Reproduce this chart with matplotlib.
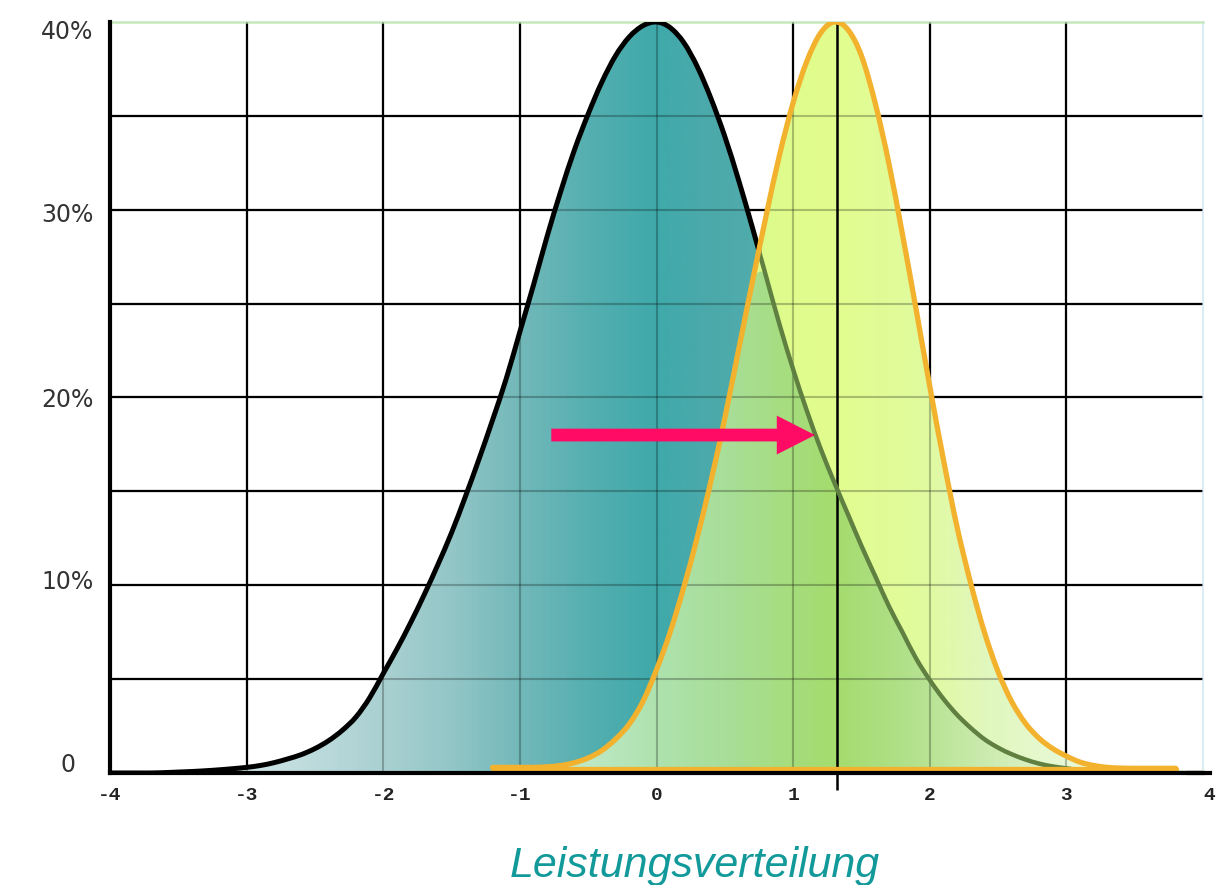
import numpy as np
import matplotlib
matplotlib.use("Agg")
import matplotlib.pyplot as plt
from matplotlib.patches import PathPatch, FancyArrowPatch
from matplotlib.path import Path
from matplotlib.colors import LinearSegmentedColormap
import matplotlib.transforms as mtransforms

# ---------------- data (percent values) ----------------
black_x = np.round(np.arange(-4.0, 4.0001, 0.1), 2)
black_y = [0.0, 0.0, 0.0, 0.0, 0.02, 0.05, 0.08, 0.12, 0.17, 0.23,    # -4.0 .. -3.1
           0.3, 0.4, 0.55, 0.75, 0.98, 1.3, 1.72, 2.27, 2.98, 4.0,    # -3.0 .. -2.1
           5.3, 6.6, 8.0, 9.5, 11.1, 12.8, 14.7, 16.7, 18.8, 21.0,    # -2.0 .. -1.1
           23.5, 26.0, 28.6, 31.0, 33.2, 35.1, 36.8, 38.2, 39.2, 39.8,  # -1.0 .. -0.1
           40.0, 39.7, 38.9, 37.6, 35.9, 33.9, 31.6, 29.1, 26.5, 23.9,  # 0.0 .. 0.9
           21.5, 19.3, 17.3, 15.5, 13.8, 12.1, 10.5, 8.9, 7.5, 6.1,   # 1.0 .. 1.9
           4.95, 3.95, 3.1, 2.4, 1.8, 1.35, 1.0, 0.72, 0.5, 0.35,     # 2.0 .. 2.9
           0.25, 0.15, 0.08, 0.03, 0.0, 0.0, 0.0, 0.0, 0.0, 0.0,      # 3.0 .. 3.9
           0.0]                                                        # 4.0

yellow_x = np.round(np.arange(-1.2, 3.8001, 0.1), 2)
yellow_y = [0.3, 0.3, 0.3, 0.3, 0.33, 0.4, 0.55, 0.8, 1.2, 1.8,       # -1.2 .. -0.3
            2.6, 3.8, 5.5, 7.5, 9.9, 12.6, 15.6, 18.9, 22.5, 26.1,    # -0.2 .. 0.7
            29.6, 32.9, 35.7, 37.9, 39.4, 40.0, 39.6, 38.2, 35.7, 32.5,  # 0.8 .. 1.7
            28.7, 24.7, 20.6, 16.7, 13.1, 10.1, 7.5, 5.4, 3.8, 2.65,  # 1.8 .. 2.7
            1.85, 1.3, 0.9, 0.58, 0.4, 0.3, 0.26, 0.25, 0.25, 0.25,   # 2.8 .. 3.7
            0.25]                                                      # 3.8
yellow_base = 0.2
shift_mean = 1.32          # centre of the shifted (yellow) distribution
arrow_from = (-0.77, 18.0)
arrow_to = (1.16, 18.0)

x_ticks = [-4, -3, -2, -1, 0, 1, 2, 3, 4]
x_tick_labels = ["-4", "-3", "-2", "-1", "0", "1", "2", "3", "4"]
y_ticks = [0, 10, 20, 30, 40]
y_tick_labels = ["0", "10%", "20%", "30%", "40%"]
y_grid = [5, 10, 15, 20, 25, 30, 35]
x_label = "Leistungsverteilung"

black_y = np.array(black_y)
yellow_y = np.array(yellow_y)


# ---------------- helpers: smooth path through the data points ----------------
def bezier_segments(xs, ys):
    P = np.column_stack([xs, ys]).astype(float)
    n = len(P)
    segs = []
    for i in range(n - 1):
        p0 = P[i - 1] if i > 0 else P[i]
        p1, p2 = P[i], P[i + 1]
        p3 = P[i + 2] if i + 2 < n else P[i + 1]
        segs.append([p1, p1 + (p2 - p0) / 6.0, p2 - (p3 - p1) / 6.0, p2])
    return segs


def split_seg(seg, t):
    p0, c1, c2, p3 = seg
    a = p0 + (c1 - p0) * t
    b = c1 + (c2 - c1) * t
    c = c2 + (p3 - c2) * t
    d = a + (b - a) * t
    e = b + (c - b) * t
    f = d + (e - d) * t
    return [p0, a, d, f], [f, e, c, p3]


def segs_to_path(segs, tail=None):
    verts = [segs[0][0]]
    codes = [Path.MOVETO]
    for s in segs:
        verts += [s[1], s[2], s[3]]
        codes += [Path.CURVE4] * 3
    if tail is not None:
        for p in tail:
            verts.append(p)
            codes.append(Path.LINETO)
        verts.append(verts[0])
        codes.append(Path.CLOSEPOLY)
    return Path(np.array(verts), codes)


# ---------------- figure ----------------
fig = plt.figure(figsize=(12.23, 8.85), dpi=100)
ax = fig.add_axes([110 / 1223, 1 - 773 / 885, 1093 / 1223, (773 - 22) / 885])


def grad_fill(path, stops, zorder):
    patch = PathPatch(path, facecolor="none", edgecolor="none")
    ax.add_patch(patch)
    x0, x1 = stops[0][0], stops[-1][0]
    cmap = LinearSegmentedColormap.from_list(
        "g", [((s[0] - x0) / (x1 - x0), s[1]) for s in stops])
    grad = np.linspace(0, 1, 600).reshape(1, -1)
    im = ax.imshow(grad, cmap=cmap, extent=[x0, x1, 0, 40], aspect="auto",
                   origin="lower", zorder=zorder, interpolation="bilinear")
    im.set_clip_path(patch)


teal_stops = [(-4.0, "#dcecee"), (-3.0, "#cfe4e6"), (-2.5, "#bcdadb"),
              (-2.0, "#a9d0d1"), (-1.5, "#93c6c7"), (-1.0, "#72b8b9"),
              (-0.5, "#55afb0"), (0.0, "#3fa9aa"), (0.3, "#4aa9aa"),
              (1.2, "#58aeae"), (4.0, "#60b0b0")]
lime_stops = [(-1.2, "#dcf7c8"), (0.7, "#dcfb8a"), (1.3, "#e2fd8e"),
              (1.9, "#e0fb9c"), (2.4, "#e0f7bc"), (3.0, "#e8f9d6"),
              (3.8, "#f2fbe8")]
green_stops = [(-1.2, "#cdeed6"), (-0.5, "#bde8c3"), (0.0, "#aee2ae"),
               (0.5, "#a8de98"), (1.0, "#a6dd7c"), (1.3, "#a4dc6e"),
               (1.8, "#b0e088"), (2.3, "#c6e9a8"), (2.8, "#dcf2c6"),
               (3.3, "#ecf9e0"), (3.8, "#f2fbe8")]

# base grid (under the fills)
for xv in x_ticks[1:-1]:
    ax.axvline(xv, color="black", lw=1.6, zorder=0.5)
for yv in y_grid:
    ax.axhline(yv, color="black", lw=1.6, zorder=0.5)

black_segs = bezier_segments(black_x, black_y)
yellow_segs = bezier_segments(yellow_x, yellow_y)

grad_fill(segs_to_path(black_segs, tail=[(black_x[-1], 0), (black_x[0], 0)]),
          teal_stops, 1)
grad_fill(segs_to_path(yellow_segs, tail=[(yellow_x[-1], 0), (yellow_x[0], 0)]),
          lime_stops, 2)
black_on_y = np.interp(yellow_x, black_x, black_y)
min_y = np.minimum(black_on_y, yellow_y)
grad_fill(segs_to_path(bezier_segments(yellow_x, min_y),
                       tail=[(yellow_x[-1], 0), (yellow_x[0], 0)]),
          green_stops, 3)

# grid seen through the fills
ax.vlines(x_ticks[1:-1], 0, 40, color="black", lw=1.5, alpha=0.25, zorder=4)
ax.hlines(y_grid, -4, 4, color="black", lw=1.5, alpha=0.25, zorder=4)

# vertical line at the shifted mean
ax.plot([shift_mean, shift_mean], [-0.9, 40], color="black", lw=1.8,
        zorder=4.5, clip_on=False, solid_capstyle="butt")

# black curve: black outside the yellow area, olive inside it
yel_on_b = np.interp(black_x, yellow_x, yellow_y, left=-1, right=-1)
inside = (black_y <= yel_on_b) & (black_x >= 0)
i0 = np.where(inside)[0][0]          # first point inside the yellow area
d_out = black_y[i0 - 1] - yel_on_b[i0 - 1]
d_in = yel_on_b[i0] - black_y[i0]
t_cross = d_out / (d_out + d_in)
first, second = split_seg(black_segs[i0 - 1], t_cross)
outside_segs = black_segs[:i0 - 1] + [first]
inside_segs = [second] + black_segs[i0:]
ax.add_patch(PathPatch(segs_to_path(outside_segs), facecolor="none",
                       edgecolor="black", lw=3.6, zorder=5,
                       capstyle="round", joinstyle="round"))
ax.add_patch(PathPatch(segs_to_path(inside_segs), facecolor="none",
                       edgecolor="#5f8040", lw=3.2, zorder=5,
                       capstyle="round", joinstyle="round"))

# yellow curve with its base
ax.add_patch(PathPatch(segs_to_path(yellow_segs), facecolor="none",
                       edgecolor="#f2b22e", lw=3.8, zorder=6,
                       capstyle="round", joinstyle="round"))
ax.plot([yellow_x[0], yellow_x[-1]], [yellow_base, yellow_base],
        color="#f2b22e", lw=3.8, zorder=6, solid_capstyle="round")

# pink arrow
arr = FancyArrowPatch(arrow_from, arrow_to,
                      arrowstyle="simple,head_length=2.75,head_width=2.8,tail_width=0.92",
                      mutation_scale=10, color="#ff0a64", lw=0,
                      shrinkA=0, shrinkB=0, zorder=8)
ax.add_patch(arr)

ax.set_xlim(-4, 4)
ax.set_ylim(0, 40)

# spines
for s in ["left", "bottom"]:
    ax.spines[s].set_color("black")
    ax.spines[s].set_linewidth(3)
    ax.spines[s].set_zorder(7)
ax.spines["top"].set_color("#c6e8bc")
ax.spines["top"].set_linewidth(1.8)
ax.spines["right"].set_color("#d6eaf2")
ax.spines["right"].set_linewidth(1.2)
ax.plot([3.9, 4.05], [0, 0], color="black", lw=3, clip_on=False, zorder=7)

# ticks
ax.set_xticks(x_ticks)
ax.set_xticklabels(x_tick_labels, family="Liberation Mono", fontweight="bold",
                   fontsize=14, color="#222222")
ax.set_yticks(y_ticks)
ax.set_yticklabels(y_tick_labels, family="DejaVu Sans", fontsize=17,
                   color="#333333")
ax.tick_params(axis="both", length=0)
ax.tick_params(axis="x", pad=10)
ax.tick_params(axis="y", pad=12)
y_offsets = {"0": (-18, 11), "10%": (0, 6), "20%": (0, 0),
             "30%": (0, -3), "40%": (0, -8)}
for lab in ax.get_yticklabels():
    dx, dy = y_offsets.get(lab.get_text(), (0, 0))
    lab.set_transform(lab.get_transform() +
                      mtransforms.ScaledTranslation(dx / 100, dy / 100,
                                                    fig.dpi_scale_trans))
ax.get_xticklabels()[-1].set_transform(
    ax.get_xticklabels()[-1].get_transform() +
    mtransforms.ScaledTranslation(6 / 100, 0, fig.dpi_scale_trans))

fig.text(695 / 1223, 1 - 877 / 885, x_label, ha="center", va="baseline",
         family="Liberation Sans", style="italic", fontsize=31, color="#12999a")

fig.savefig("out.png", dpi=100)
